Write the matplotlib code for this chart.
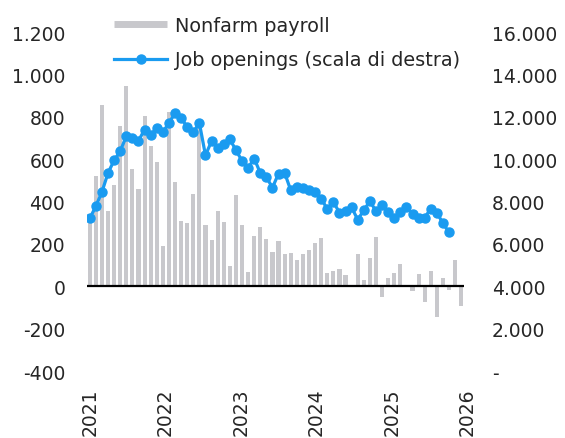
import matplotlib.pyplot as plt
from matplotlib.lines import Line2D
import numpy as np

plt.rcParams['font.family'] = ['DejaVu Sans']

# monthly nonfarm payroll changes (thousands), Jan 2021 - Feb 2026
payroll = [310, 519, 856, 354, 480, 758, 947, 555, 458, 803, 660, 588,
           188, 822, 491, 307, 300, 435, 762, 289, 216, 356, 301, 97,
           433, 289, 66, 238, 278, 223, 160, 215, 152, 155, 124, 151,
           173, 204, 226, 61, 74, 83, 52, 6, 154, 28, 132, 234,
           -50, 38, 64, 104, 8, -22, 60, -72, 72, -144, 38, -20,
           122, -94]

# job openings (thousands), Jan 2021 - Dec 2025
openings = [7200, 7780, 8455, 9350, 9945, 10370, 11090, 11000, 10870, 11390, 11150, 11465,
            11280, 11700, 12170, 11940, 11515, 11280, 11700, 10180, 10855, 10525, 10695, 10930,
            10430, 9915, 9585, 10025, 9350, 9140, 8660, 9320, 9350, 8530, 8690, 8645,
            8520, 8455, 8140, 7640, 7985, 7470, 7560, 7720, 7140, 7590, 8015, 7545,
            7825, 7515, 7200, 7515, 7750, 7390, 7200, 7235, 7670, 7470, 6965, 6540]

years = ["2021", "2022", "2023", "2024", "2025", "2026"]
left_ticks = [-400, -200, 0, 200, 400, 600, 800, 1000, 1200]
right_ticks = [0, 2000, 4000, 6000, 8000, 10000, 12000, 14000, 16000]

bar_color = "#c8c8cc"
line_color = "#1a9bf0"
text_color = "#262626"

fig = plt.figure(figsize=(5.65, 4.39), dpi=100)
ax = fig.add_axes([0.1535, 0.1526, 0.6683, 0.7722])
ax2 = ax.twinx()

x = np.arange(len(payroll))
ax.bar(x, payroll, width=0.68, color=bar_color, zorder=1)
ax.axhline(0, color="black", lw=1.6, zorder=3)
ax2.plot(np.arange(len(openings)), openings, color=line_color, lw=2.3,
         marker="o", markersize=6.5, zorder=4)

ax.set_xlim(-0.5, len(payroll) - 0.5)
ax.set_ylim(-400, 1200)
ax2.set_ylim(0, 16000)

ax.set_yticks(left_ticks)
ax.set_yticklabels([f"{v:,}".replace(",", ".") for v in left_ticks])
ax2.set_yticks(right_ticks)
ax2.set_yticklabels(["-" if v == 0 else f"{v:,}".replace(",", ".") for v in right_ticks])
ax.set_xticks([])

ax.tick_params(axis="y", length=0, pad=15.5, labelsize=13.5, colors=text_color)
ax2.tick_params(axis="y", length=0, pad=20, labelsize=13.5, colors=text_color)

for a in (ax, ax2):
    for s in a.spines.values():
        s.set_visible(False)

# year labels, spread evenly from first bar
step = len(payroll) / (len(years) - 1)
for i, yr in enumerate(years):
    ax.annotate(yr, xy=(i * step, 0), xycoords=("data", "axes fraction"),
                xytext=(0, -12), textcoords="offset points",
                rotation=90, ha="center", va="top", fontsize=13.5,
                color=text_color, annotation_clip=False)

handles = [Line2D([], [], color=bar_color, lw=5, solid_capstyle="butt"),
           Line2D([], [], color=line_color, lw=2.3, marker="o", markersize=6.5)]
ax2.legend(handles, ["Nonfarm payroll", "Job openings (scala di destra)"],
           loc="upper left", bbox_to_anchor=(114 / 565, 1 - 17 / 439),
           bbox_transform=fig.transFigure, frameon=False, fontsize=13.9,
           handlelength=2.75, handletextpad=0.4, labelspacing=0.8,
           borderpad=0, borderaxespad=0, labelcolor=text_color)

fig.savefig("out.png", dpi=100)
